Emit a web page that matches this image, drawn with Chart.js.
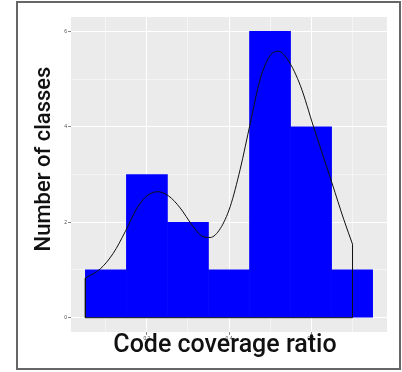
<!DOCTYPE html>
<html>
<head>
<meta charset="utf-8">
<script src="https://cdn.jsdelivr.net/npm/chart.js@4"></script>
<style>
  html, body { margin: 0; padding: 0; background: #fff; }
  #wrap { width: 402px; height: 372px; }
</style>
</head>
<body>
<div id="wrap"><canvas id="coverage"></canvas></div>
<script>
// histogram bins (centre of each 0.1 wide bin) and class counts
var binCenters = [0.1, 0.2, 0.3, 0.4, 0.5, 0.6, 0.7];
var classCounts = [1, 3, 2, 1, 6, 4, 1];

// density estimate scaled to counts
var densX = [0.05, 0.086, 0.118, 0.147, 0.176, 0.2, 0.226, 0.253, 0.281, 0.31, 0.334, 0.354,
             0.379, 0.403, 0.427, 0.452, 0.476, 0.5, 0.521, 0.545, 0.574, 0.606, 0.651, 0.68, 0.701];
var densY = [0.83, 1.02, 1.35, 1.80, 2.30, 2.55, 2.64, 2.55, 2.30, 1.94, 1.71, 1.68,
             1.87, 2.33, 3.10, 4.08, 5.00, 5.49, 5.58, 5.38, 4.86, 4.00, 2.82, 2.05, 1.54];

var xTicks = [0.2, 0.4, 0.6];
var yTicks = [0, 2, 4, 6];

var xTitle = "Code coverage ratio";
var yTitle = "Number of classes";

function isMajor(list, c) {
  if (!c || !c.tick) return false;
  return list.some(function (t) { return Math.abs(t - c.tick.value) < 1e-6; });
}

// grey panel, outer frame and the two big axis titles
var ggPanel = {
  id: "ggPanel",
  beforeDraw: function (chart) {
    var ctx = chart.ctx, a = chart.chartArea;
    ctx.save();
    ctx.fillStyle = "#ebebeb";
    ctx.fillRect(a.left, a.top, a.right - a.left, a.bottom - a.top);
    ctx.restore();
  },
  afterDraw: function (chart) {
    var ctx = chart.ctx, a = chart.chartArea;
    ctx.save();
    ctx.strokeStyle = "#666";
    ctx.lineWidth = 2;
    ctx.strokeRect(17, 2, 383, 367);
    ctx.fillStyle = "#111";
    ctx.textAlign = "center";
    ctx.textBaseline = "alphabetic";
    ctx.font = "500 25px Roboto";
    ctx.fillText(xTitle, a.left + 154, 352);
    ctx.font = "500 22px Roboto";
    ctx.translate(50, a.top + 142);
    ctx.rotate(-Math.PI / 2);
    ctx.fillText(yTitle, 0, 0);
    ctx.restore();
  }
};

var bars = binCenters.map(function (x, i) { return { x: x, y: classCounts[i] }; });
var curve = densX.map(function (x, i) { return { x: x, y: densY[i] }; });
var outline = [
  { x: densX[0], y: densY[0] },
  { x: densX[0], y: 0 },
  { x: densX[densX.length - 1], y: 0 },
  { x: densX[densX.length - 1], y: densY[densY.length - 1] }
];

new Chart("coverage", {
  type: "bar",
  data: {
    datasets: [
      {
        type: "line",
        data: curve,
        borderColor: "#111",
        borderWidth: 1,
        pointRadius: 0,
        cubicInterpolationMode: "monotone",
        order: 1
      },
      {
        type: "line",
        data: outline,
        borderColor: "#111",
        borderWidth: 1,
        pointRadius: 0,
        tension: 0,
        order: 1
      },
      {
        data: bars,
        backgroundColor: "#0000ff",
        borderWidth: 0,
        barPercentage: 1,
        categoryPercentage: 1,
        order: 2
      }
    ]
  },
  options: {
    responsive: true,
    maintainAspectRatio: false,
    animation: false,
    layout: { padding: { left: 0, top: 17, right: 15, bottom: 0 } },
    plugins: { legend: { display: false }, tooltip: { enabled: false } },
    scales: {
      x: {
        type: "linear",
        min: 0.015,
        max: 0.785,
        offset: false,
        afterFit: function (s) { s.height = 40; },
        border: { display: false },
        grid: {
          offset: false,
          color: "#fff",
          lineWidth: function (c) { return isMajor(xTicks, c) ? 1 : 0.5; },
          tickColor: function (c) { return isMajor(xTicks, c) ? "#333" : "rgba(0,0,0,0)"; },
          tickLength: 3,
          tickWidth: 0.6
        },
        ticks: {
          stepSize: 0.1,
          includeBounds: false,
          maxRotation: 0,
          autoSkip: false,
          padding: 1,
          color: "#4d4d4d",
          font: { size: 5, family: "Liberation Sans" },
          callback: function (v) { return isMajor(xTicks, { tick: { value: v } }) ? v.toFixed(1) : ""; }
        }
      },
      y: {
        min: -0.3,
        max: 6.3,
        afterFit: function (s) { s.width = 71; },
        border: { display: false },
        grid: {
          color: "#fff",
          lineWidth: function (c) { return isMajor(yTicks, c) ? 1 : 0.5; },
          tickColor: function (c) { return isMajor(yTicks, c) ? "#333" : "rgba(0,0,0,0)"; },
          tickLength: 3,
          tickWidth: 0.6
        },
        ticks: {
          stepSize: 1,
          includeBounds: false,
          padding: 1,
          color: "#4d4d4d",
          font: { size: 5, family: "Liberation Sans" },
          callback: function (v) { return isMajor(yTicks, { tick: { value: v } }) ? String(v) : ""; }
        }
      }
    }
  },
  plugins: [ggPanel]
});
</script>
</body>
</html>
